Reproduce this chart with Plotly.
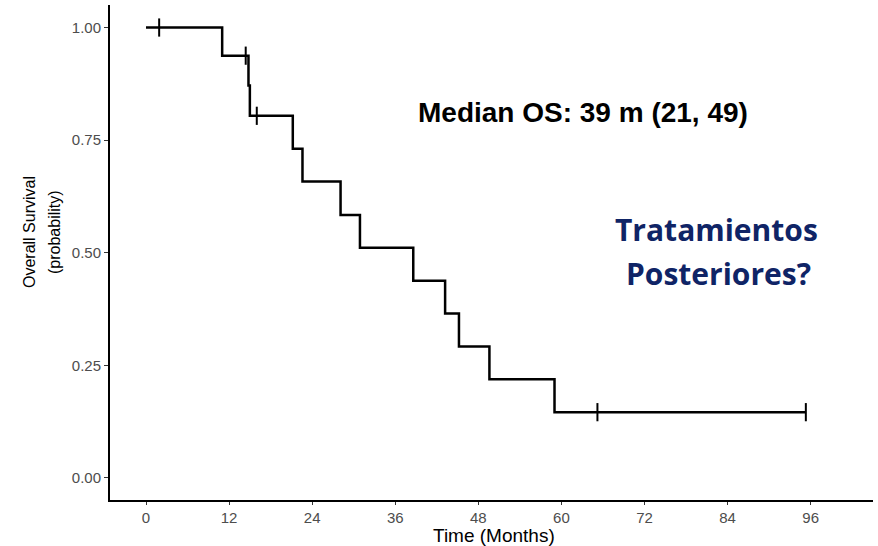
import plotly.graph_objects as go

# Kaplan-Meier step data (months, survival probability)
step_times = [0, 11.0, 14.8, 15.0, 21.2, 22.6, 28.1, 30.9, 38.6, 43.2, 45.2, 49.6, 59.0, 95.3]
step_surv = [1.00, 0.9375, 0.871, 0.804, 0.731, 0.658, 0.584, 0.511, 0.438, 0.365, 0.292, 0.219, 0.146, 0.146]

# Censored observations
cens_times = [1.9, 14.4, 16.0, 65.2, 95.3]
cens_surv = [1.00, 0.9375, 0.804, 0.146, 0.146]

x_ticks = [0, 12, 24, 36, 48, 60, 72, 84, 96]
y_ticks = [0.00, 0.25, 0.50, 0.75, 1.00]
y_tick_labels = ["0.00", "0.25", "0.50", "0.75", "1.00"]

W, H = 878, 546
l, r, t, b = 110, 5, 5, 46
pw, ph = W - l - r, H - t - b


def px(x):
    return (x - l) / pw


def py(y):
    return 1 - (y - t) / ph


fig = go.Figure()
fig.add_trace(go.Scatter(
    x=step_times, y=step_surv, mode="lines",
    line=dict(color="black", width=2.5, shape="hv"),
    hoverinfo="skip", showlegend=False,
))
fig.add_trace(go.Scatter(
    x=cens_times, y=cens_surv, mode="markers",
    marker=dict(symbol="line-ns", size=13, line=dict(color="black", width=2)),
    showlegend=False,
))


def note(x, y, text, size, color, family, angle=0):
    fig.add_annotation(
        x=px(x), y=py(y), xref="paper", yref="paper", xanchor="center", yanchor="middle",
        text=text, showarrow=False, textangle=angle,
        font=dict(family=family, size=size, color=color),
    )


note(583, 113, "<b>Median OS: 39 m (21, 49)</b>", 28, "black", "Liberation Sans, Arial")
note(716, 229, "<b>Tratamientos</b>", 30, "#0F2466", "Open Sans")
note(718, 273, "<b>Posteriores?</b>", 30, "#0F2466", "Open Sans")

# Axis titles
note(494, 535, "Time (Months)", 19, "black", "Liberation Sans, Arial")
note(29, 232, "Overall Survival", 16, "black", "Liberation Sans, Arial", angle=-90)
note(54, 232, "(probability)", 16, "black", "Liberation Sans, Arial", angle=-90)

fig.update_layout(
    width=W, height=H,
    margin=dict(l=l, r=r, t=t, b=b, autoexpand=False),
    paper_bgcolor="white", plot_bgcolor="white",
    font=dict(family="Liberation Sans, Arial", color="black"),
    xaxis=dict(
        range=[-5.2, 105], tickvals=x_ticks, ticktext=[str(v) for v in x_ticks],
        showgrid=False, zeroline=False, showline=True, linecolor="black", linewidth=2,
        ticks="outside", ticklen=3, tickcolor="#333333", tickwidth=1,
        tickfont=dict(size=15, color="#4D4D4D"), automargin=False,
    ),
    yaxis=dict(
        range=[-0.049, 1.05], tickvals=y_ticks, ticktext=y_tick_labels,
        showgrid=False, zeroline=False, showline=True, linecolor="black", linewidth=2,
        ticks="outside", ticklen=4, tickcolor="#333333", tickwidth=1,
        tickfont=dict(size=15, color="#4D4D4D"), automargin=False,
    ),
)

fig.write_html("out.html", config={"displayModeBar": False},
               post_script="document.body.style.margin='0';")
